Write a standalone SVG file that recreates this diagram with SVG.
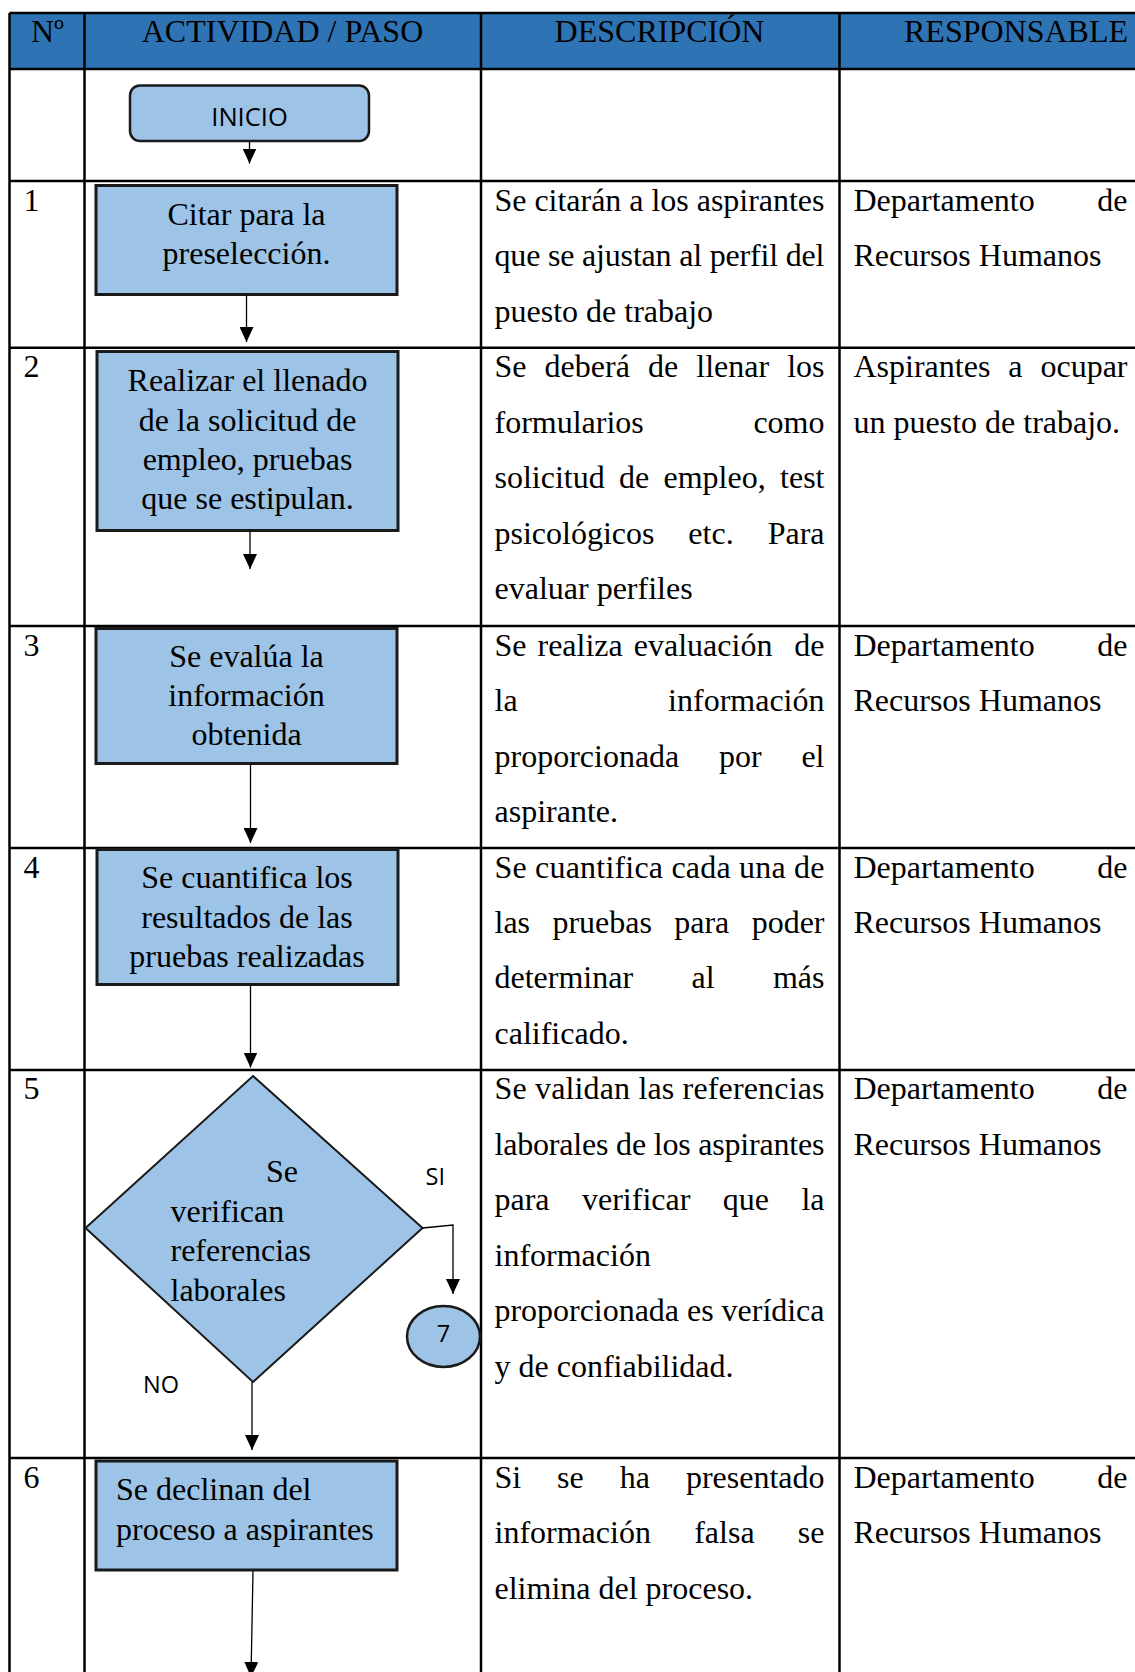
<svg xmlns="http://www.w3.org/2000/svg" width="1135" height="1672" viewBox="0 0 1135 1672">
<style>
.t{font-family:"Liberation Serif","Times New Roman",serif;font-size:32px;fill:#000}
.e{text-anchor:end}
.m{text-anchor:middle}
.s{font-family:"Open Sans","Liberation Sans",sans-serif;fill:#000}
.grid{stroke:#000;stroke-width:2.5;fill:none}
.box{fill:#9DC3E6;stroke:#1a1a1a;stroke-width:3}
.conn{stroke:#000;stroke-width:1.3;fill:none;marker-end:url(#ah)}
</style>
<defs>
<marker id="ah" viewBox="0 0 15 14" markerWidth="15" markerHeight="14" refX="15" refY="7" orient="auto" markerUnits="userSpaceOnUse">
<path d="M0,0 L15,7 L0,14 z" fill="#000"/>
</marker>
</defs>
<rect width="1135" height="1672" fill="#fff"/>
<g id="table">
<rect x="9.5" y="13" width="1126" height="56" fill="#2E74B5"/>
<g class="grid">
<line x1="9.5" y1="13" x2="1135" y2="13"/>
<line x1="9.5" y1="69" x2="1135" y2="69"/>
<line x1="9.5" y1="181" x2="1135" y2="181"/>
<line x1="9.5" y1="347.7" x2="1135" y2="347.7"/>
<line x1="9.5" y1="626" x2="1135" y2="626"/>
<line x1="9.5" y1="848" x2="1135" y2="848"/>
<line x1="9.5" y1="1070" x2="1135" y2="1070"/>
<line x1="9.5" y1="1458" x2="1135" y2="1458"/>
<line x1="9.5" y1="13" x2="9.5" y2="1672"/>
<line x1="84.5" y1="13" x2="84.5" y2="1672"/>
<line x1="481" y1="13" x2="481" y2="1672"/>
<line x1="839.5" y1="13" x2="839.5" y2="1672"/>
</g>
<g class="t">
<text x="47.5" y="42" class="m">Nº</text>
<text x="282.5" y="42" class="m">ACTIVIDAD / PASO</text>
<text x="659.5" y="42" class="m">DESCRIPCIÓN</text>
<text x="904" y="42">RESPONSABLE</text>
<text x="23.5" y="210.8">1</text>
<text x="23.5" y="377.2">2</text>
<text x="23.5" y="655.6">3</text>
<text x="23.5" y="877.5">4</text>
<text x="23.5" y="1099.4">5</text>
<text x="23.5" y="1487.7">6</text>
</g>
<g class="t" id="descripcion">
<text x="494.5" y="210.8" textLength="330" lengthAdjust="spacing">Se citarán a los aspirantes</text>
<text x="494.5" y="266.3" textLength="330" lengthAdjust="spacing">que se ajustan al perfil del</text>
<text x="494.5" y="321.7">puesto de trabajo</text>
<text x="494.5" y="377.2">Se</text><text x="544.6" y="377.2">deberá</text><text x="648" y="377.2">de</text><text x="696.3" y="377.2">llenar</text><text x="824.5" y="377.2" class="e">los</text>
<text x="494.5" y="432.7">formularios</text><text x="824.5" y="432.7" class="e">como</text>
<text x="494.5" y="488.1">solicitud</text><text x="619" y="488.1">de</text><text x="663.5" y="488.1">empleo,</text><text x="824.5" y="488.1" class="e">test</text>
<text x="494.5" y="543.6">psicológicos</text><text x="711" y="543.6" class="m">etc.</text><text x="824.5" y="543.6" class="e">Para</text>
<text x="494.5" y="599.1">evaluar perfiles</text>
<text x="494.5" y="655.6">Se</text><text x="537.5" y="655.6">realiza</text><text x="633.8" y="655.6">evaluación</text><text x="824.5" y="655.6" class="e">de</text>
<text x="494.5" y="711.1">la</text><text x="824.5" y="711.1" class="e">información</text>
<text x="494.5" y="766.5">proporcionada</text><text x="740.4" y="766.5" class="m">por</text><text x="824.5" y="766.5" class="e">el</text>
<text x="494.5" y="822">aspirante.</text>
<text x="494.5" y="877.5" textLength="330" lengthAdjust="spacing">Se cuantifica cada una de</text>
<text x="494.5" y="933">las</text><text x="552.4" y="933">pruebas</text><text x="674.2" y="933">para</text><text x="824.5" y="933" class="e">poder</text>
<text x="494.5" y="988.4">determinar</text><text x="703" y="988.4" class="m">al</text><text x="824.5" y="988.4" class="e">más</text>
<text x="494.5" y="1043.9">calificado.</text>
<text x="494.5" y="1099.4" textLength="330" lengthAdjust="spacing">Se validan las referencias</text>
<text x="494.5" y="1154.9" textLength="330" lengthAdjust="spacing">laborales de los aspirantes</text>
<text x="494.5" y="1210.3">para</text><text x="582" y="1210.3">verificar</text><text x="722.8" y="1210.3">que</text><text x="824.5" y="1210.3" class="e">la</text>
<text x="494.5" y="1265.8">información</text>
<text x="494.5" y="1321.3" textLength="330" lengthAdjust="spacing">proporcionada es verídica</text>
<text x="494.5" y="1376.7">y de confiabilidad.</text>
<text x="494.5" y="1487.7">Si</text><text x="557.1" y="1487.7">se</text><text x="619.7" y="1487.7">ha</text><text x="824.5" y="1487.7" class="e">presentado</text>
<text x="494.5" y="1543.2">información</text><text x="724.4" y="1543.2" class="m">falsa</text><text x="824.5" y="1543.2" class="e">se</text>
<text x="494.5" y="1598.6">elimina del proceso.</text>
</g>
<g class="t" id="responsable">
<text x="853.5" y="210.8">Departamento</text><text x="1127.5" y="210.8" class="e">de</text>
<text x="853.5" y="266.3">Recursos Humanos</text>
<text x="853.5" y="377.2">Aspirantes</text><text x="1015.4" y="377.2" class="m">a</text><text x="1127.5" y="377.2" class="e">ocupar</text>
<text x="853.5" y="432.7">un puesto de trabajo.</text>
<text x="853.5" y="655.6">Departamento</text><text x="1127.5" y="655.6" class="e">de</text>
<text x="853.5" y="711.1">Recursos Humanos</text>
<text x="853.5" y="877.5">Departamento</text><text x="1127.5" y="877.5" class="e">de</text>
<text x="853.5" y="933">Recursos Humanos</text>
<text x="853.5" y="1099.4">Departamento</text><text x="1127.5" y="1099.4" class="e">de</text>
<text x="853.5" y="1154.9">Recursos Humanos</text>
<text x="853.5" y="1487.7">Departamento</text><text x="1127.5" y="1487.7" class="e">de</text>
<text x="853.5" y="1543.2">Recursos Humanos</text>
</g>
</g>
<g id="inicio">
<rect x="130" y="85.5" width="239" height="55.5" rx="10" ry="10" fill="#9DC3E6" stroke="#1a1a1a" stroke-width="2.5"/>
<text x="249.5" y="126" class="s m" font-size="25.5">INICIO</text>
</g>
<g id="paso1">
<rect class="box" x="96" y="185.5" width="301" height="109"/>
<text class="t m" x="246.5" y="225">Citar para la</text>
<text class="t m" x="246.5" y="264">preselección.</text>
</g>
<g id="paso2">
<rect class="box" x="97" y="351.5" width="301" height="179"/>
<text class="t m" x="247.5" y="391">Realizar el llenado</text>
<text class="t m" x="247.5" y="430.5">de la solicitud de</text>
<text class="t m" x="247.5" y="469.5">empleo, pruebas</text>
<text class="t m" x="247.5" y="509">que se estipulan.</text>
</g>
<g id="paso3">
<rect class="box" x="96" y="628.5" width="301" height="135"/>
<text class="t m" x="246.5" y="666.5">Se evalúa la</text>
<text class="t m" x="246.5" y="705.5">información</text>
<text class="t m" x="246.5" y="744.5">obtenida</text>
</g>
<g id="paso4">
<rect class="box" x="97" y="849.5" width="301" height="135"/>
<text class="t m" x="247" y="888">Se cuantifica los</text>
<text class="t m" x="247" y="927.5">resultados de las</text>
<text class="t m" x="247" y="967">pruebas realizadas</text>
</g>
<g id="paso5">
<polygon points="253,1076 422.5,1228 253,1382 85.5,1228" fill="#9DC3E6" stroke="#1a1a1a" stroke-width="2"/>
<text class="t" x="266" y="1182">Se</text>
<text class="t" x="170.5" y="1221.5">verifican</text>
<text class="t" x="170.5" y="1261">referencias</text>
<text class="t" x="170.5" y="1300.5">laborales</text>
</g>
<g id="conector7">
<ellipse cx="443.5" cy="1336.5" rx="36.5" ry="30.5" fill="#9DC3E6" stroke="#1a1a1a" stroke-width="2.5"/>
<text x="443.5" y="1342" class="s m" font-size="23.5">7</text>
</g>
<g id="paso6">
<rect class="box" x="96" y="1461" width="301" height="109"/>
<text class="t" x="116" y="1500">Se declinan del</text>
<text class="t" x="116" y="1539.5">proceso a aspirantes</text>
</g>
<g id="connectors">
<line class="conn" x1="249.5" y1="142" x2="249.5" y2="163.5"/>
<line class="conn" x1="246.5" y1="295" x2="246.5" y2="342"/>
<line class="conn" x1="250" y1="531" x2="250" y2="569"/>
<line class="conn" x1="250.5" y1="764" x2="250.5" y2="843"/>
<line class="conn" x1="250.5" y1="985.5" x2="250.5" y2="1067.5"/>
<polyline class="conn" points="422.5,1228 453,1225 453,1294"/>
<line class="conn" x1="252" y1="1382" x2="252" y2="1450"/>
<line class="conn" x1="253" y1="1571" x2="251" y2="1677"/>
<text x="425.5" y="1185" class="s" font-size="23.5">SI</text>
<text x="143" y="1393" class="s" font-size="23.5">NO</text>
</g>
</svg>
